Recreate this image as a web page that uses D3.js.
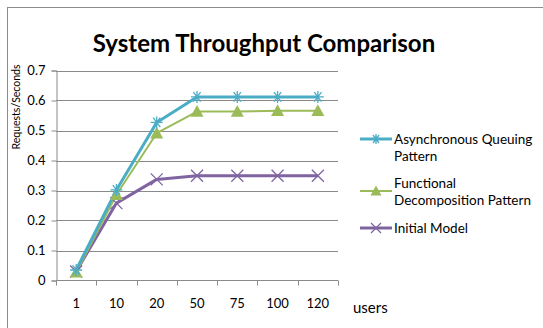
<!DOCTYPE html>
<html><head><meta charset="utf-8">
<script src="https://cdnjs.cloudflare.com/ajax/libs/d3/7.8.5/d3.min.js"></script>
<style>body{margin:0;background:#fff}svg{display:block}text{font-family:Lato,"Open Sans",sans-serif}</style>
</head><body>
<script>
const categories = ["1","10","20","50","75","100","120"];
const asyncQueuing = [0.035,0.302,0.527,0.612,0.612,0.612,0.612];
const functionalDecomp = [0.027,0.286,0.491,0.563,0.563,0.566,0.566];
const initialModel = [0.03,0.258,0.337,0.349,0.349,0.349,0.349];
const yTicks = [0,0.1,0.2,0.3,0.4,0.5,0.6,0.7];
const seriesNames = ["Asynchronous Queuing Pattern","Functional Decomposition Pattern","Initial Model"];

const W=543,H=328;
const svg=d3.select("body").append("svg").attr("width",W).attr("height",H);
svg.append("rect").attr("x",7.5).attr("y",7.5).attr("width",W).attr("height",H).attr("fill","#fff").attr("stroke","#8c8c8c");

svg.append("text").attr("x",264).attr("y",52).attr("text-anchor","middle")
  .attr("font-size",24).attr("font-weight","bold").text("System Throughput Comparison");

const x=d3.scaleBand().domain(categories).range([56,338]);
const y=d3.scaleLinear().domain([0,0.7]).range([280.5,70.5]);

svg.append("g").selectAll("line").data(yTicks.slice(1)).join("line")
  .attr("x1",56).attr("x2",338).attr("y1",d=>Math.round(y(d))+0.5).attr("y2",d=>Math.round(y(d))+0.5)
  .attr("stroke","#8a8a8a").attr("stroke-width",1);

const yAxis=svg.append("g").attr("transform","translate(56.5,0)")
  .call(d3.axisLeft(y).tickValues(yTicks).tickFormat(d=>d===0?"0":d3.format(".1f")(d)).tickSize(5).tickPadding(6));
yAxis.select(".domain").attr("stroke","#8a8a8a");
yAxis.selectAll(".tick line").attr("stroke","#8a8a8a");
yAxis.selectAll("text").attr("font-size",13).attr("fill","#000").attr("font-family","Lato");

const xAxis=svg.append("g").attr("transform","translate(0,280.5)")
  .call(d3.axisBottom(x).tickSize(0).tickPadding(18));
xAxis.select(".domain").attr("stroke","#8a8a8a").attr("d","M56,0H338");
xAxis.selectAll("text").attr("font-size",13).attr("fill","#000").attr("font-family","Lato");
const bounds=categories.map(c=>x(c)).concat([x.range()[1]]);
xAxis.append("g").selectAll("line").data(bounds).join("line")
  .attr("x1",d=>Math.round(d)+0.5).attr("x2",d=>Math.round(d)+0.5).attr("y1",0).attr("y2",5).attr("stroke","#8a8a8a");

svg.append("text").attr("x",353).attr("y",313).attr("font-size",15).text("users");
svg.append("text").attr("transform","translate(20,107) rotate(-90)").attr("text-anchor","middle")
  .attr("font-size",10.5).text("Requests/Seconds");

const cx=c=>x(c)+x.bandwidth()/2;
const line=d3.line().x((d,i)=>cx(categories[i])).y(d=>y(d));

function star(g,px,py,col,s){
  const p=d3.path();
  p.moveTo(px-s,py);p.lineTo(px+s,py);
  p.moveTo(px-s*0.6,py-s*0.8);p.lineTo(px+s*0.6,py+s*0.8);
  p.moveTo(px-s*0.6,py+s*0.8);p.lineTo(px+s*0.6,py-s*0.8);
  p.moveTo(px,py-s);p.lineTo(px,py+s);
  g.append("path").attr("d",p.toString()).attr("stroke",col).attr("stroke-width",1.3).attr("fill","none");
}
function tri(g,px,py,col,s){
  g.append("path").attr("d",`M${px},${py-s}L${px+s},${py+s*0.8}L${px-s},${py+s*0.8}Z`).attr("fill",col);
}
function cross(g,px,py,col,s){
  g.append("path").attr("d",`M${px-s},${py-s}L${px+s},${py+s}M${px-s},${py+s}L${px+s},${py-s}`)
   .attr("stroke",col).attr("stroke-width",1.3).attr("fill","none");
}
const series=[
 {vals:initialModel,col:"#8064A2",w:3,mk:cross,s:6},
 {vals:functionalDecomp,col:"#9BBB59",w:2,mk:tri,s:6.5},
 {vals:asyncQueuing,col:"#4BACC6",w:3,mk:star,s:6},
];
series.forEach(se=>{
  svg.append("path").attr("d",line(se.vals)).attr("fill","none").attr("stroke",se.col).attr("stroke-width",se.w).attr("stroke-linejoin","round");
});
series.forEach(se=>{
  const g=svg.append("g");
  se.vals.forEach((v,i)=>se.mk(g,cx(categories[i]),y(v),se.col,se.s));
});

const leg=[
 {col:"#4BACC6",w:3,mk:star,s:5,ly:139,lines:["Asynchronous Queuing","Pattern"],ty:139},
 {col:"#9BBB59",w:2,mk:tri,s:5.5,ly:191,lines:["Functional","Decomposition Pattern"],ty:183},
 {col:"#8064A2",w:3,mk:cross,s:5,ly:228,lines:["Initial Model"],ty:228},
];
leg.forEach(l=>{
  const g=svg.append("g");
  g.append("line").attr("x1",360).attr("x2",392).attr("y1",l.ly).attr("y2",l.ly).attr("stroke",l.col).attr("stroke-width",l.w);
  l.mk(g,376,l.ly,l.col,l.s);
  l.lines.forEach((t,i)=>g.append("text").attr("x",394).attr("y",l.ty+i*17).attr("dy","0.35em").attr("font-size",13.5).text(t));
});
</script>
</body></html>
